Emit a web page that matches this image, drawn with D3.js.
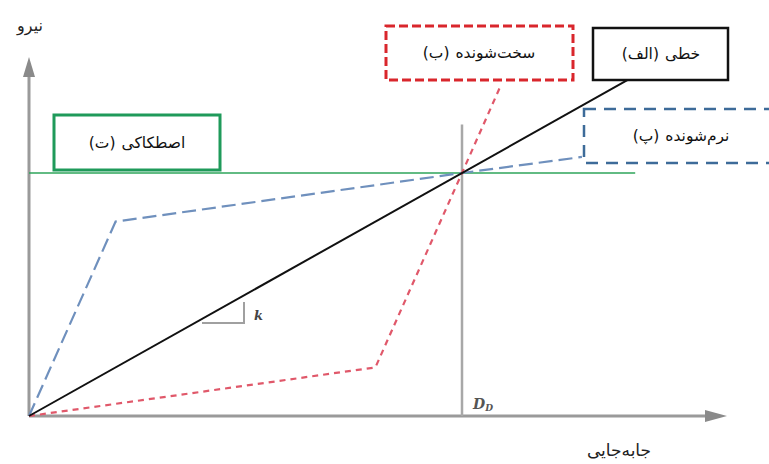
<!DOCTYPE html>
<html>
<head>
<meta charset="utf-8">
<script src="https://cdn.jsdelivr.net/npm/d3@7"></script>
<style>
  body { margin: 0; background: #fff; }
  svg { display: block; font-family: "DejaVu Sans", sans-serif; }
</style>
</head>
<body>
<svg id="chart" width="769" height="464"></svg>
<script>
"use strict";

// displacement / force pairs, normalised so that D_D = 1 and the common force = 1
const linearDisp = [0, 1.39];
const linearForce = [0, 1.39];
const hardeningDisp = [0, 0.8, 1, 1.088];
const hardeningForce = [0, 0.2, 1, 1.354];
const softeningDisp = [0, 0.2, 1, 1.277];
const softeningForce = [0, 0.8, 1, 1.066];
const frictionDisp = [0, 1.4];
const frictionForce = [1, 1];
const designDisp = 1;      // D_D
const designLineTop = 1.2;
const axisMax = { x: 1.612, y: 1.477 };

// labels: tag (drawn on the left) and name (drawn on the right)
const labelForce = "نیرو";
const labelDisp = "جابه\u200Cجایی";
const seriesTags = { linear: "(الف)", hardening: "(ب)", softening: "(پ)", friction: "(ت)" };
const seriesNames = {
  linear: "خطی",
  hardening: "سخت\u200Cشونده",
  softening: "نرم\u200Cشونده",
  friction: "اصطکاکی"
};

const svg = d3.select("#chart");
const x = d3.scaleLinear().domain([0, 1]).range([29, 462]);
const y = d3.scaleLinear().domain([0, 1]).range([416, 173]);

const gray = "#9a9a9a";
const zip = (xs, ys) => xs.map((v, i) => [v, ys[i]]);
const line = d3.line().x(d => x(d[0])).y(d => y(d[1]));

// axes with arrow heads
const x0 = x(0), y0 = y(0);
const xTip = x(axisMax.x), yTip = y(axisMax.y);
svg.append("line")
  .attr("x1", x0).attr("y1", y0).attr("x2", xTip - 18).attr("y2", y0)
  .attr("stroke", gray).attr("stroke-width", 3);
svg.append("path")
  .attr("d", "M" + xTip + "," + y0 + " L" + (xTip - 22) + "," + (y0 - 6) + " L" + (xTip - 22) + "," + (y0 + 6) + "Z")
  .attr("fill", "#8a8a8a");
svg.append("line")
  .attr("x1", x0).attr("y1", y0).attr("x2", x0).attr("y2", yTip + 18)
  .attr("stroke", gray).attr("stroke-width", 3);
svg.append("path")
  .attr("d", "M" + x0 + "," + yTip + " L" + (x0 - 6) + "," + (yTip + 20) + " L" + (x0 + 6) + "," + (yTip + 20) + "Z")
  .attr("fill", "#8a8a8a");

// D_D vertical line
svg.append("line")
  .attr("x1", x(designDisp)).attr("y1", y0).attr("x2", x(designDisp)).attr("y2", y(designLineTop))
  .attr("stroke", "#a8a8a8").attr("stroke-width", 2.5);

// series
svg.append("path").datum(zip(frictionDisp, frictionForce)).attr("d", line)
  .attr("fill", "none").attr("stroke", "#2ea55a").attr("stroke-width", 1.5);
svg.append("path").datum(zip(softeningDisp, softeningForce)).attr("d", line)
  .attr("fill", "none").attr("stroke", "#6f90bd").attr("stroke-width", 2.2)
  .attr("stroke-dasharray", "14,6");
svg.append("path").datum(zip(hardeningDisp, hardeningForce)).attr("d", line)
  .attr("fill", "none").attr("stroke", "#e0586a").attr("stroke-width", 2.2)
  .attr("stroke-dasharray", "6,5");
svg.append("path").datum(zip(linearDisp, linearForce)).attr("d", line)
  .attr("fill", "none").attr("stroke", "#111").attr("stroke-width", 2);

// slope marker
svg.append("path").attr("d", "M202,323 H244 V302")
  .attr("fill", "none").attr("stroke", "#a0a0a0").attr("stroke-width", 2);
svg.append("text").attr("x", 254).attr("y", 320).text("k")
  .attr("font-family", "DejaVu Serif, serif").attr("font-style", "italic")
  .attr("font-weight", "bold").attr("font-size", 13).attr("fill", "#444");

// D_D label
const dd = svg.append("text").attr("x", 473).attr("y", 409)
  .attr("font-family", "DejaVu Serif, serif").attr("font-style", "italic")
  .attr("font-weight", "bold").attr("fill", "#555").attr("font-size", 14);
dd.append("tspan").text("D");
dd.append("tspan").attr("font-size", 9).attr("dy", 2).text("D");

// axis titles
svg.append("text").attr("x", 30).attr("y", 31).attr("text-anchor", "middle")
  .attr("font-size", 16).attr("fill", "#222").text(labelForce);
svg.append("text").attr("x", 619).attr("y", 456).attr("text-anchor", "middle")
  .attr("font-size", 17).attr("fill", "#222").text(labelDisp);

// legend boxes
const boxes = [
  { key: "friction", x: 54, y: 115, w: 166, h: 55, cx: 137, stroke: "#1f9a5a", sw: 3, dash: null },
  { key: "hardening", x: 386, y: 26, w: 187, h: 54, cx: 479, stroke: "#d9262c", sw: 3, dash: "9,4" },
  { key: "linear", x: 593, y: 28, w: 135, h: 52, cx: 661, stroke: "#111", sw: 2.5, dash: null },
  { key: "softening", x: 584, y: 109, w: 200, h: 54, cx: 681, stroke: "#3d6b99", sw: 2.5, dash: "12,8" }
];
const gap = 6;
const box = svg.selectAll("g.box").data(boxes).enter().append("g").attr("class", "box");
box.append("rect")
  .attr("x", d => d.x).attr("y", d => d.y).attr("width", d => d.w).attr("height", d => d.h)
  .attr("fill", "#fff").attr("stroke", d => d.stroke).attr("stroke-width", d => d.sw)
  .attr("stroke-dasharray", d => d.dash);
box.each(function (d) {
  const g = d3.select(this);
  const ty = d.y + d.h / 2 + 5;
  const tag = g.append("text").attr("y", ty).attr("font-size", 15.5).attr("fill", "#111")
    .text(seriesTags[d.key]);
  const name = g.append("text").attr("y", ty).attr("font-size", 15.5).attr("fill", "#111")
    .text(seriesNames[d.key]);
  const tw = tag.node().getComputedTextLength();
  const nw = name.node().getComputedTextLength();
  const left = d.cx - (tw + gap + nw) / 2;
  tag.attr("x", left);
  name.attr("x", left + tw + gap);
});
</script>
</body>
</html>
